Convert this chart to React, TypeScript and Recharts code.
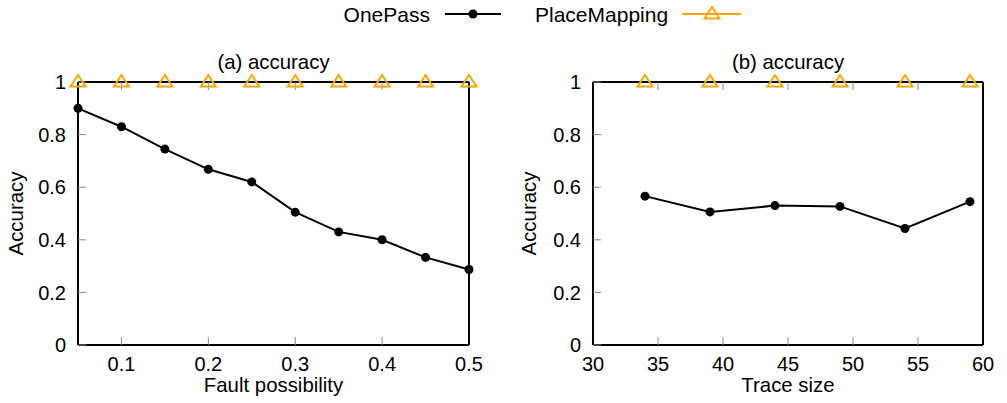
import React from 'react';
import { LineChart, Line, XAxis, YAxis } from 'recharts';

const faultPossibility = [0.05, 0.1, 0.15, 0.2, 0.25, 0.3, 0.35, 0.4, 0.45, 0.5];
const onePassA = [0.9, 0.83, 0.745, 0.668, 0.62, 0.505, 0.43, 0.4, 0.333, 0.287];
const placeMappingA = [1, 1, 1, 1, 1, 1, 1, 1, 1, 1];

const traceSize = [34, 39, 44, 49, 54, 59];
const onePassB = [0.566, 0.506, 0.53, 0.527, 0.443, 0.545];
const placeMappingB = [1, 1, 1, 1, 1, 1];

const faultTicks = [0.1, 0.2, 0.3, 0.4, 0.5];
const traceTicks = [30, 35, 40, 45, 50, 55, 60];
const accuracyTicks = [0, 0.2, 0.4, 0.6, 0.8, 1];

const dataA = faultPossibility.map((x, i) => ({ x, onePass: onePassA[i], placeMapping: placeMappingA[i] }));
const dataB = traceSize.map((x, i) => ({ x, onePass: onePassB[i], placeMapping: placeMappingB[i] }));

const FONT = "'Liberation Sans', Arial, Helvetica, sans-serif";
const ORANGE = '#FFA500';
const FS = 20;
const LFS = 20.4;
const LEGFS = 21;

const triPath = (cx: number, cy: number) =>
  `M${cx - 7.5},${cy + 4.5} L${cx + 7.5},${cy + 4.5} L${cx},${cy - 7} Z`;

const TriangleDot = (props: any) => {
  const { cx, cy, index } = props;
  if (cx == null || cy == null) return <g key={`t${index}`} />;
  return <path key={`t${index}`} d={triPath(cx, cy)} fill="none" stroke={ORANGE} strokeWidth={2} />;
};

const emptyTick = () => <g />;

type PanelProps = {
  data: any[];
  domain: [number, number];
  ticks: number[];
  title: string;
  xLabel: string;
  yAxisWidth: number;
  marginRight: number;
  yLabelX: number;
};

function Panel({ data, domain, ticks, title, xLabel, yAxisWidth, marginRight, yLabelX }: PanelProps) {
  const tickStyle = { fill: '#000', fontSize: FS, fontFamily: FONT };
  const axisLine = { stroke: '#000', strokeWidth: 2 };
  const tickLine = { stroke: '#888', strokeWidth: 1 };
  return (
    <LineChart width={500} height={403} data={data} margin={{ top: 81, right: marginRight - 1, bottom: 8, left: 0 }}>
      <XAxis
        xAxisId="b"
        dataKey="x"
        type="number"
        domain={domain}
        ticks={ticks}
        height={50}
        tickSize={-8}
        tickMargin={20}
        stroke="#000"
        axisLine={axisLine}
        tickLine={tickLine}
        tick={tickStyle}
        label={{
          content: (p: any) => {
            const vb = p.viewBox;
            return (
              <text x={vb.x + vb.width / 2} y={392} textAnchor="middle" fontSize={LFS} fontFamily={FONT} fill="#000">
                {xLabel}
              </text>
            );
          },
        }}
      />
      <XAxis
        xAxisId="t"
        orientation="top"
        dataKey="x"
        type="number"
        domain={domain}
        ticks={ticks}
        height={1}
        tickSize={-8}
        stroke="#000"
        axisLine={axisLine}
        tickLine={tickLine}
        tick={emptyTick}
        label={{
          content: (p: any) => {
            const vb = p.viewBox;
            return (
              <text x={vb.x + vb.width / 2} y={69} textAnchor="middle" fontSize={LFS} fontFamily={FONT} fill="#000">
                {title}
              </text>
            );
          },
        }}
      />
      <YAxis
        yAxisId="l"
        type="number"
        domain={[0, 1]}
        ticks={accuracyTicks}
        width={yAxisWidth}
        tickSize={-8}
        tickMargin={20}
        stroke="#000"
        axisLine={axisLine}
        tickLine={tickLine}
        tick={tickStyle}
        label={{
          content: (p: any) => {
            const vb = p.viewBox;
            const cy = vb.y + vb.height / 2;
            return (
              <text
                x={yLabelX}
                y={cy}
                transform={`rotate(-90, ${yLabelX}, ${cy})`}
                textAnchor="middle"
                dominantBaseline="central"
                fontSize={LFS}
                fontFamily={FONT}
                fill="#000"
              >
                Accuracy
              </text>
            );
          },
        }}
      />
      <YAxis
        yAxisId="r"
        orientation="right"
        type="number"
        domain={[0, 1]}
        ticks={accuracyTicks}
        width={1}
        tickSize={-8}
        stroke="#000"
        axisLine={axisLine}
        tickLine={tickLine}
        tick={emptyTick}
      />
      <Line
        xAxisId="b"
        yAxisId="l"
        dataKey="onePass"
        type="linear"
        stroke="#000"
        strokeWidth={2}
        dot={{ r: 4.5, fill: '#000', stroke: '#000', strokeWidth: 0 }}
        isAnimationActive={false}
      />
      <Line
        xAxisId="b"
        yAxisId="l"
        dataKey="placeMapping"
        type="linear"
        stroke={ORANGE}
        strokeWidth={2}
        dot={TriangleDot}
        isAnimationActive={false}
      />
    </LineChart>
  );
}

function LegendBar() {
  return (
    <svg width={1007} height={40} style={{ position: 'absolute', left: 0, top: 0 }}>
      <text x={430} y={22} textAnchor="end" fontSize={LEGFS} fontFamily={FONT} fill="#000">OnePass</text>
      <line x1={445} y1={14} x2={501} y2={14} stroke="#000" strokeWidth={2} />
      <circle cx={473} cy={14} r={4.5} fill="#000" />
      <text x={535} y={22} textAnchor="start" fontSize={LEGFS} fontFamily={FONT} fill="#000">PlaceMapping</text>
      <line x1={682} y1={14} x2={741} y2={14} stroke={ORANGE} strokeWidth={2} />
      <path d={triPath(712, 14)} fill="none" stroke={ORANGE} strokeWidth={2} />
    </svg>
  );
}

export default function App() {
  return (
    <div style={{ position: 'absolute', left: 0, top: 0, width: 1007, height: 403, background: '#fff', fontFamily: FONT }}>
      <div style={{ position: 'absolute', left: 0, top: 0 }}>
        <Panel
          data={dataA}
          domain={[0.05, 0.5]}
          ticks={faultTicks}
          title="(a) accuracy"
          xLabel="Fault possibility"
          yAxisWidth={78}
          marginRight={31}
          yLabelX={16}
        />
      </div>
      <div style={{ position: 'absolute', left: 507, top: 0 }}>
        <Panel
          data={dataB}
          domain={[30, 60]}
          ticks={traceTicks}
          title="(b) accuracy"
          xLabel="Trace size"
          yAxisWidth={86}
          marginRight={24}
          yLabelX={22}
        />
      </div>
      <LegendBar />
    </div>
  );
}
